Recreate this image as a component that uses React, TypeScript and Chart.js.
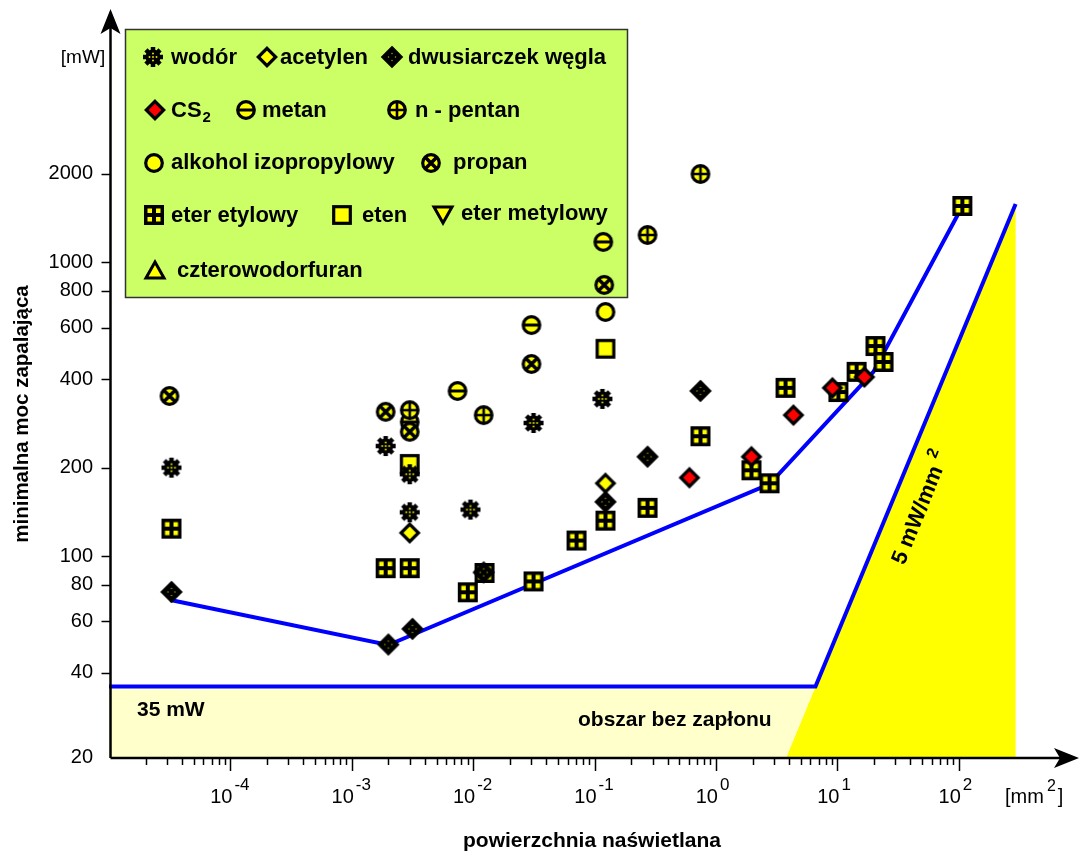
import React, { useEffect, useRef } from "react";
import { Chart, registerables } from "chart.js";
Chart.register(...registerables);

type P = [number, number];

// ---- data: [area mm², power mW] ----
const hydrogen: P[] = [[3.27e-5, 200], [1.9e-3, 237], [3.0e-3, 190], [3.0e-3, 141], [9.5e-3, 144], [3.14e-2, 284], [0.116, 343]];
const acetylene: P[] = [[3.0e-3, 120], [0.123, 177]];
const carbonDioxide: P[] = [[3.27e-5, 75.5], [2.0e-3, 50], [3.16e-3, 56.5], [1.22e-2, 88], [0.123, 153], [0.273, 218], [0.745, 365]];
const carbonDisulfide: P[] = [[0.605, 185], [1.96, 218], [4.35, 302], [9.11, 374], [16.7, 407]];
const methane: P[] = [[3.0e-3, 286], [7.43e-3, 365], [3.02e-2, 612], [0.118, 1174]];
const pentane: P[] = [[3.0e-3, 314], [1.22e-2, 302], [0.273, 1240], [0.745, 2000]];
const isopropanol: P[] = [[0.123, 678]];
const propane: P[] = [[3.15e-5, 351], [1.9e-3, 310], [3.0e-3, 265], [3.02e-2, 451], [0.12, 838]];
const diethylEther: P[] = [[3.27e-5, 124], [1.9e-3, 91], [3.0e-3, 91], [9.03e-3, 75.3], [1.24e-2, 87.6], [3.14e-2, 82], [7.1e-2, 113], [0.123, 132], [0.273, 146], [0.745, 256], [1.96, 196], [2.76, 177], [3.74, 374], [10.2, 362], [14.4, 424], [20.6, 519], [24.0, 458], [107, 1556]];
const ethylene: P[] = [[3.0e-3, 206], [0.123, 508]];
const dimethylEther: P[] = [];
const tetrahydrofuran: P[] = [];

const envelopeLine: P[] = [[3.21e-5, 70.9], [2.0e-3, 49.8], [2.76, 176], [19.8, 424], [103, 1508]];
const thresholdLine: P[] = [[1e-5, 36], [6.6, 36], [294, 1580]];
const noIgnitionRegion: P[] = [[1e-5, 20.7], [1e-5, 36], [6.6, 36], [3.8, 20.7]];
const densityRegion: P[] = [[3.8, 20.7], [294, 1580], [294, 20.7]];

const X_MIN = 1e-5, X_MAX = 750;
const Y_MIN = 20.7, Y_MAX = 6688;
const yTicks = [20, 40, 60, 80, 100, 200, 400, 600, 800, 1000, 2000];
const xExponents = [-4, -3, -2, -1, 0, 1, 2];

const FONT = "'Liberation Sans', Arial, sans-serif";
const YEL = "#ffff00";
const BLK = "#000000";

function mk(draw: (c: CanvasRenderingContext2D) => void, size = 26) {
  const cv = document.createElement("canvas");
  cv.width = size; cv.height = size;
  const c = cv.getContext("2d")!;
  c.translate(size / 2, size / 2);
  draw(c);
  return cv;
}

function makeMarkers() {
  const circle = (c: CanvasRenderingContext2D) => {
    c.beginPath(); c.arc(0, 0, 8.3, 0, Math.PI * 2);
    c.fillStyle = YEL; c.fill();
    c.lineWidth = 3.2; c.strokeStyle = BLK; c.stroke();
  };
  const diamond = (c: CanvasRenderingContext2D, fill: string, h = 8.7) => {
    c.beginPath(); c.moveTo(0, -h); c.lineTo(h, 0); c.lineTo(0, h); c.lineTo(-h, 0); c.closePath();
    c.fillStyle = fill; c.fill(); c.lineWidth = 3.2; c.strokeStyle = BLK; c.lineJoin = "miter"; c.stroke();
  };
  return {
    wodor: mk((c) => {
      c.strokeStyle = BLK; c.lineWidth = 4.5;
      for (let i = 0; i < 4; i++) {
        const a = (i * Math.PI) / 4;
        c.beginPath(); c.moveTo(-10 * Math.cos(a), -10 * Math.sin(a)); c.lineTo(10 * Math.cos(a), 10 * Math.sin(a)); c.stroke();
      }
      c.fillStyle = BLK; c.beginPath(); c.arc(0, 0, 7.5, 0, Math.PI * 2); c.fill();
      c.fillStyle = YEL;
      [[0, -3.5], [0, 3.5], [-3.5, 0], [3.5, 0], [0, 0]].forEach(([x, y]) => c.fillRect(x - 0.8, y - 0.8, 1.6, 1.6));
    }),
    acetylen: mk((c) => diamond(c, YEL)),
    dwutlenek: mk((c) => {
      diamond(c, BLK, 9);
      c.fillStyle = "#b5b500";
      [[0, -3.5], [0, 3.5], [-3.5, 0], [3.5, 0]].forEach(([x, y]) => c.fillRect(x - 0.6, y - 0.6, 1.2, 1.2));
    }),
    cs2: mk((c) => diamond(c, "#ff0000")),
    metan: mk((c) => {
      circle(c);
      c.lineWidth = 3; c.beginPath(); c.moveTo(-8, 0); c.lineTo(8, 0); c.stroke();
    }),
    pentan: mk((c) => {
      circle(c);
      c.lineWidth = 2.6; c.beginPath(); c.moveTo(-8, 0); c.lineTo(8, 0); c.moveTo(0, -8); c.lineTo(0, 8); c.stroke();
    }),
    alkohol: mk((c) => circle(c)),
    propan: mk((c) => {
      circle(c);
      c.lineWidth = 3.6; c.beginPath(); c.moveTo(-6, -6); c.lineTo(6, 6); c.moveTo(6, -6); c.lineTo(-6, 6); c.stroke();
    }),
    eter: mk((c) => {
      c.fillStyle = BLK; c.fillRect(-10, -10, 20, 20);
      c.fillStyle = YEL;
      [[-6.5, -6.5], [2, -6.5], [-6.5, 2], [2, 2]].forEach(([x, y]) => c.fillRect(x, y, 4.5, 4.5));
    }),
    eten: mk((c) => {
      c.fillStyle = YEL; c.fillRect(-8.3, -8.3, 16.6, 16.6);
      c.lineWidth = 3.2; c.strokeStyle = BLK; c.strokeRect(-8.3, -8.3, 16.6, 16.6);
    }),
    etermet: mk((c) => {
      c.beginPath(); c.moveTo(-9, -7); c.lineTo(9, -7); c.lineTo(0, 9); c.closePath();
      c.fillStyle = YEL; c.fill(); c.lineWidth = 3; c.strokeStyle = BLK; c.lineJoin = "miter"; c.stroke();
    }),
    thf: mk((c) => {
      c.beginPath(); c.moveTo(0, -8); c.lineTo(9, 8); c.lineTo(-9, 8); c.closePath();
      c.fillStyle = YEL; c.fill(); c.lineWidth = 3; c.strokeStyle = BLK; c.lineJoin = "miter"; c.stroke();
    }),
  };
}

const toXY = (arr: P[]) => arr.map(([x, y]) => ({ x, y }));

export default function App() {
  const ref = useRef<HTMLCanvasElement>(null);
  useEffect(() => {
    const M = makeMarkers();
    const pts = (label: string, data: P[], style: HTMLCanvasElement, order = 0) => ({
      type: "scatter" as const,
      label,
      data: toXY(data),
      pointStyle: style,
      pointRadius: 9,
      order,
    });

    const legendItems: [HTMLCanvasElement, string, number, number, number, number][] = [
      [M.wodor, "wodór", 153, 57, 171, 64],
      [M.acetylen, "acetylen", 267, 57, 280, 64],
      [M.dwutlenek, "dwusiarczek węgla", 392, 57, 408, 64],
      [M.cs2, "CS", 155, 110, 171, 117],
      [M.metan, "metan", 246, 110, 262, 117],
      [M.pentan, "n - pentan", 397, 110, 415, 117],
      [M.alkohol, "alkohol izopropylowy", 154, 163, 171, 169],
      [M.propan, "propan", 431, 163, 453, 169],
      [M.eter, "eter etylowy", 154, 215, 171, 222],
      [M.eten, "eten", 342, 215, 362, 222],
      [M.etermet, "eter metylowy", 443, 214, 461, 220],
      [M.thf, "czterowodorfuran", 155, 270, 177, 277],
    ];

    const decor = {
      id: "decor",
      beforeDatasetsDraw(chart: any) {
        const ctx: CanvasRenderingContext2D = chart.ctx;
        ctx.save();
        ctx.fillStyle = "#ccff66";
        ctx.fillRect(125, 29, 503, 269);
        ctx.strokeStyle = "#333";
        ctx.lineWidth = 1.5;
        ctx.strokeRect(125.5, 29.5, 502, 268);
        ctx.fillStyle = BLK;
        ctx.font = `bold 22px ${FONT}`;
        ctx.textBaseline = "alphabetic";
        ctx.textAlign = "left";
        for (const [img, label, mx, my, tx, ty] of legendItems) {
          ctx.drawImage(img, mx - img.width / 2, my - img.height / 2);
          ctx.fillText(label, tx, ty);
          if (label === "CS") {
            const w = ctx.measureText("CS").width;
            ctx.font = `bold 15px ${FONT}`;
            ctx.fillText("2", tx + w + 1, ty + 5);
            ctx.font = `bold 22px ${FONT}`;
          }
        }
        ctx.restore();
      },
      afterDatasetsDraw(chart: any) {
        const ctx: CanvasRenderingContext2D = chart.ctx;
        const xs = chart.scales.x, ys = chart.scales.y;
        const { left, bottom } = chart.chartArea;
        const ax = left + 1.5, ay = bottom + 1;
        ctx.save();
        ctx.strokeStyle = BLK; ctx.fillStyle = BLK;
        // axes
        ctx.lineWidth = 2.5;
        ctx.beginPath(); ctx.moveTo(ax, ay); ctx.lineTo(ax, 25); ctx.stroke();
        ctx.beginPath(); ctx.moveTo(ax, ay); ctx.lineTo(1062, ay); ctx.stroke();
        // arrows
        ctx.beginPath(); ctx.moveTo(ax, 9); ctx.lineTo(ax + 10, 34); ctx.lineTo(ax, 28); ctx.lineTo(ax - 10, 34); ctx.closePath(); ctx.fill();
        ctx.beginPath(); ctx.moveTo(1079, ay); ctx.lineTo(1054, ay - 10); ctx.lineTo(1060, ay); ctx.lineTo(1054, ay + 10); ctx.closePath(); ctx.fill();
        // x ticks
        ctx.lineWidth = 1.5;
        for (let e = -5; e <= 2; e++) {
          for (let k = 1; k <= 9; k++) {
            const v = k * Math.pow(10, e);
            if (v <= X_MIN * 1.01 || v > 100.5) continue;
            const px = Math.round(xs.getPixelForValue(v)) + 0.5;
            const len = k === 1 ? 13 : 7;
            ctx.beginPath(); ctx.moveTo(px, ay); ctx.lineTo(px, ay + len); ctx.stroke();
          }
        }
        ctx.textBaseline = "alphabetic";
        for (const e of xExponents) {
          const px = xs.getPixelForValue(Math.pow(10, e));
          ctx.font = `20px ${FONT}`;
          ctx.textAlign = "right";
          ctx.fillText("10", px + 2, 803);
          ctx.font = `17px ${FONT}`;
          ctx.textAlign = "left";
          ctx.fillText(String(e), px + 4, 790);
        }
        // y ticks
        ctx.lineWidth = 1.5;
        ctx.font = `20px ${FONT}`;
        ctx.textAlign = "right";
        ctx.textBaseline = "middle";
        for (const v of yTicks) {
          const py = Math.min(ys.getPixelForValue(v), bottom);
          if (v !== 20) {
            ctx.beginPath(); ctx.moveTo(ax - 9, Math.round(py) + 0.5); ctx.lineTo(ax, Math.round(py) + 0.5); ctx.stroke();
          }
          ctx.fillText(String(v), 93, py);
        }
        // units
        ctx.font = `19px ${FONT}`;
        ctx.textAlign = "center";
        ctx.fillText("[mW]", 83, 58);
        ctx.textAlign = "left";
        ctx.textBaseline = "alphabetic";
        let ux = 1005;
        ctx.font = `20px ${FONT}`;
        ctx.fillText("[mm", ux, 803); ux += ctx.measureText("[mm").width + 3;
        ctx.font = `16px ${FONT}`;
        ctx.fillText("2", ux, 791); ux += ctx.measureText("2").width + 2;
        ctx.font = `20px ${FONT}`;
        ctx.fillText("]", ux, 803);
        // axis titles
        ctx.font = `bold 21px ${FONT}`;
        ctx.textAlign = "center";
        ctx.textBaseline = "middle";
        ctx.fillText("powierzchnia naświetlana", 592, 841);
        ctx.save();
        ctx.translate(22, 414);
        ctx.rotate(-Math.PI / 2);
        ctx.font = `bold 20.5px ${FONT}`;
        ctx.fillText("minimalna moc zapalająca", 0, 0);
        ctx.restore();
        // annotations
        ctx.textAlign = "left";
        ctx.font = `bold 21px ${FONT}`;
        ctx.fillText("35 mW", 137, 710);
        ctx.fillText("obszar bez zapłonu", 578, 720);
        ctx.save();
        ctx.translate(921, 508);
        ctx.rotate(-68 * Math.PI / 180);
        ctx.font = `bold 22px ${FONT}`;
        const main = "5 mW/mm";
        const wMain = ctx.measureText(main).width;
        ctx.font = `bold 16px ${FONT}`;
        const wSup = ctx.measureText("2").width;
        const gap = 7;
        const total = wMain + gap + wSup;
        ctx.font = `bold 22px ${FONT}`;
        ctx.textAlign = "left";
        ctx.fillText(main, -total / 2, 0);
        ctx.font = `bold 16px ${FONT}`;
        ctx.fillText("2", -total / 2 + wMain + gap, -9);
        ctx.restore();
        ctx.restore();
      },
    };

    const chart = new Chart(ref.current!, {
      type: "scatter",
      data: {
        datasets: [
          pts("wodór", hydrogen, M.wodor),
          pts("acetylen", acetylene, M.acetylen),
          pts("dwusiarczek węgla", carbonDioxide, M.dwutlenek),
          pts("CS2", carbonDisulfide, M.cs2),
          pts("metan", methane, M.metan, 1),
          pts("n - pentan", pentane, M.pentan),
          pts("alkohol izopropylowy", isopropanol, M.alkohol),
          pts("propan", propane, M.propan),
          pts("eter etylowy", diethylEther, M.eter),
          pts("eten", ethylene, M.eten),
          pts("eter metylowy", dimethylEther, M.etermet),
          pts("czterowodorfuran", tetrahydrofuran, M.thf),
          {
            type: "line", label: "envelope", data: toXY(envelopeLine),
            borderColor: "#0000ff", borderWidth: 4, pointRadius: 0, fill: false, order: 50, tension: 0,
          },
          {
            type: "line", label: "35 mW / 5 mW/mm2", data: toXY(thresholdLine),
            borderColor: "#0000ff", borderWidth: 4, pointRadius: 0, fill: false, order: 50, tension: 0,
          },
          {
            type: "line", label: "no ignition", data: toXY(noIgnitionRegion),
            borderWidth: 0, borderColor: "rgba(0,0,0,0)", backgroundColor: "#ffffcc", pointRadius: 0, fill: "shape", order: 100,
          },
          {
            type: "line", label: "5 mW/mm2 region", data: toXY(densityRegion),
            borderWidth: 0, borderColor: "rgba(0,0,0,0)", backgroundColor: YEL, pointRadius: 0, fill: "shape", order: 100,
          },
        ] as any,
      },
      options: {
        animation: false,
        responsive: false,
        layout: { padding: { left: 109, right: 15, top: 20, bottom: 95 } },
        scales: {
          x: { type: "logarithmic", min: X_MIN, max: X_MAX, display: false },
          y: { type: "logarithmic", min: Y_MIN, max: Y_MAX, display: false },
        },
        plugins: { legend: { display: false }, tooltip: { enabled: false } },
      },
      plugins: [decor],
    } as any);
    return () => chart.destroy();
  }, []);

  return (
    <div style={{ position: "fixed", left: 0, top: 0, width: 1080, height: 852, background: "#fff" }}>
      <canvas ref={ref} width={1080} height={852} style={{ width: 1080, height: 852, display: "block" }} />
    </div>
  );
}
